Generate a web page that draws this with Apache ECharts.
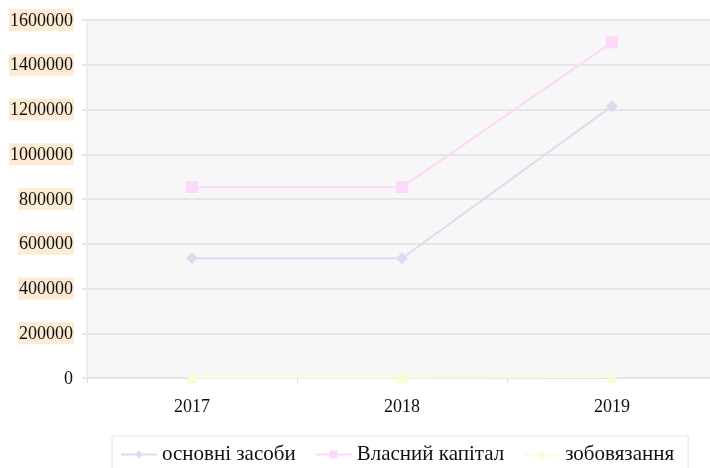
<!DOCTYPE html>
<html>
<head>
<meta charset="utf-8">
<script src="https://cdn.jsdelivr.net/npm/echarts@6/dist/echarts.min.js"></script>
<style>
  html, body { margin: 0; padding: 0; background: #fff; }
  #chart { width: 710px; height: 468px; }
</style>
</head>
<body>
<div id="chart"></div>
<script>
// Years on the category axis
const years = ['2017', '2018', '2019'];
// Series values by year
const fixedAssets = [535000, 535000, 1215000];
const equity = [853000, 853000, 1500000];
const liabilities = [2000, 2000, 5000];
const seriesNames = ['основні засоби', 'Власний капітал', 'зобовязання'];

const serif = '"Liberation Serif", "DejaVu Serif", serif';

const chart = echarts.init(document.getElementById('chart'));

function lineSeries(name, data, color, symbol, size) {
  return {
    name: name,
    type: 'line',
    data: data,
    symbol: symbol,
    symbolSize: size,
    itemStyle: { color: color },
    lineStyle: { color: color, width: 2 },
    emphasis: { disabled: true }
  };
}

chart.setOption({
  animation: false,
  backgroundColor: '#ffffff',
  grid: {
    left: 87, top: 20, width: 630, bottom: 90,
    outerBoundsMode: 'none',
    containLabel: false,
    show: true, backgroundColor: '#f7f7f7', borderWidth: 0
  },
  xAxis: {
    type: 'category',
    data: years,
    boundaryGap: true,
    axisLine: { lineStyle: { color: '#e2e2e2', width: 1 } },
    axisTick: { show: true, length: 5, lineStyle: { color: '#dddddd' } },
    axisLabel: { color: '#111', fontFamily: serif, fontSize: 18, margin: 20 }
  },
  yAxis: {
    type: 'value',
    min: 0, max: 1600000, interval: 200000,
    axisLine: { show: true, lineStyle: { color: '#eeeeee', width: 2 } },
    axisTick: { show: true, length: 5, lineStyle: { color: '#e6e6e6', width: 2 } },
    splitLine: { lineStyle: { color: '#e6e6e6', width: 2 } },
    axisLabel: {
      fontFamily: serif, fontSize: 18, color: '#111', margin: 13,
      formatter: function (v) { return v === 0 ? '{z|0}' : '{b|' + v + '}'; },
      rich: {
        b: { backgroundColor: '#fdebd3', fontFamily: serif, fontSize: 18, color: '#111', padding: [3, 1, 1, 1] },
        z: { fontFamily: serif, fontSize: 18, color: '#111', padding: [3, 1, 1, 1] }
      }
    }
  },
  legend: {
    left: 112, top: 436, width: 600,
    borderColor: '#e4e4e4', borderWidth: 1,
    padding: [8, 14, 14, 8],
    itemWidth: 36, itemHeight: 10, itemGap: 19,
    textStyle: { fontFamily: serif, fontSize: 21, color: '#111' },
    data: seriesNames
  },
  series: [
    lineSeries(seriesNames[0], fixedAssets, '#dcdcf1', 'diamond', 12),
    lineSeries(seriesNames[1], equity, '#fcd8fa', 'rect', 12),
    lineSeries(seriesNames[2], liabilities, '#fbfbd4', 'triangle', 12)
  ]
});
</script>
</body>
</html>
